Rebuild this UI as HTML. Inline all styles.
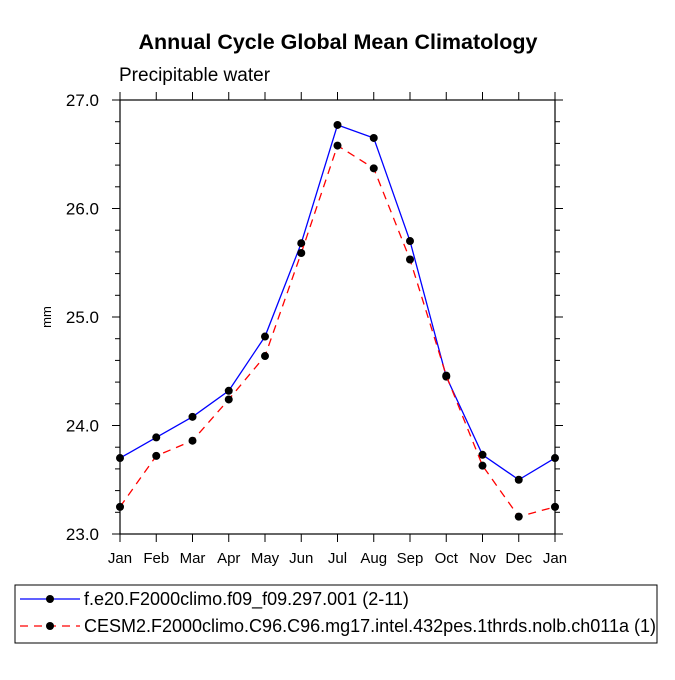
<!DOCTYPE html>
<html><head><meta charset="utf-8"><style>
body{margin:0;background:#fff}
svg text{font-family:"Liberation Sans",Arial,sans-serif;fill:#000}
</style></head><body>
<svg width="675" height="675" viewBox="0 0 675 675">
<text x="338" y="49" text-anchor="middle" font-size="21.5" font-weight="bold">Annual Cycle Global Mean Climatology</text>
<text x="119" y="81" font-size="19">Precipitable water</text>
<text transform="translate(51,317) rotate(-90)" text-anchor="middle" font-size="13">mm</text>
<g id="axes"></g>
<g id="series"></g>
<rect x="15" y="585" width="642" height="58" fill="none" stroke="#000" stroke-width="1"/>
<line x1="20" y1="599" x2="80" y2="599" stroke="#00f" stroke-width="1.2"/>
<circle cx="50" cy="599" r="4" fill="#000"/>
<text x="84" y="605" font-size="18">f.e20.F2000climo.f09_f09.297.001 (2-11)</text>
<line x1="20" y1="626" x2="80" y2="626" stroke="#f00" stroke-width="1.2" stroke-dasharray="8,6"/>
<circle cx="50" cy="626" r="4" fill="#000"/>
<text x="84" y="632" font-size="18">CESM2.F2000climo.C96.C96.mg17.intel.432pes.1thrds.nolb.ch011a (1)</text>
</svg>
<script>
const months=["Jan","Feb","Mar","Apr","May","Jun","Jul","Aug","Sep","Oct","Nov","Dec","Jan"];
const blueValues=[23.70,23.89,24.08,24.32,24.82,25.68,26.77,26.65,25.70,24.45,23.73,23.50,23.70];
const redValues=[23.25,23.72,23.86,24.24,24.64,25.59,26.58,26.37,25.53,24.46,23.63,23.16,23.25];
const yTicks=[23.0,24.0,25.0,26.0,27.0];
const NS="http://www.w3.org/2000/svg";
const L=120,R=555,T=100,B=534,yMin=23,yMax=27;
function xs(i){return L+i*(R-L)/(months.length-1);}
function ys(v){return B-(v-yMin)/(yMax-yMin)*(B-T);}
function mk(tag,attrs,parent){const e=document.createElementNS(NS,tag);for(const k in attrs)e.setAttribute(k,attrs[k]);parent.appendChild(e);return e;}
const ax=document.getElementById('axes');
const frame=mk('rect',{x:L,y:T,width:R-L,height:B-T,fill:'none',stroke:'#000','stroke-width':1.2},ax);


months.forEach((m,i)=>{
 const x=xs(i);
 mk('line',{x1:x,y1:B,x2:x,y2:B+8,stroke:'#000'},ax);
 mk('line',{x1:x,y1:T,x2:x,y2:T-8,stroke:'#000'},ax);
 const t=mk('text',{x:x,y:B+29,'text-anchor':'middle','font-size':15},ax);
 t.textContent=m;
 
 
});
for(let v=yMin;v<=yMax+1e-9;v+=0.2){
 const y=ys(v);const major=Math.abs(v-Math.round(v))<1e-6;const len=major?8:5;
 mk('line',{x1:L,y1:y,x2:L-len,y2:y,stroke:'#000'},ax);
 mk('line',{x1:R,y1:y,x2:R+len,y2:y,stroke:'#000'},ax);
}
yTicks.forEach(v=>{
 const t=mk('text',{x:L-21,y:ys(v)+6,'text-anchor':'end','font-size':17},ax);
 t.textContent=v.toFixed(1);
 
 
});
const sg=document.getElementById('series');
function drawSeries(vals,color,dash,name){
 const pts=vals.map((v,i)=>xs(i)+','+ys(v)).join(' ');
 const a={points:pts,fill:'none',stroke:color,'stroke-width':1.3};
 if(dash)a['stroke-dasharray']=dash;
 const pl=mk('polyline',a,sg);
 
 
 vals.forEach((v,i)=>{
  const c=mk('circle',{cx:xs(i),cy:ys(v),r:4,fill:'#000'},sg);
  
  
 });
}
drawSeries(blueValues,'#00f',null,'blue-series');
drawSeries(redValues,'#f00','8,6','red-series');
</script>
</body></html>
